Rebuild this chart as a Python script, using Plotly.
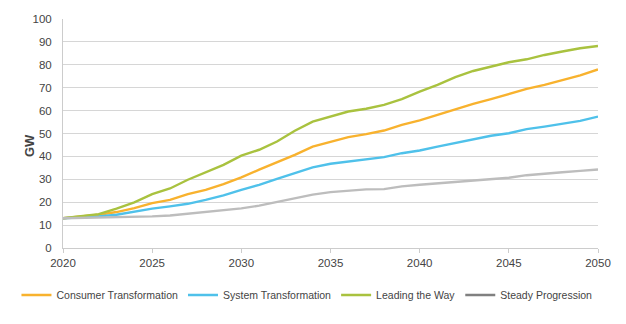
import plotly.graph_objects as go

years = list(range(2020, 2051))

consumer = [13.0, 13.6, 14.5, 15.7, 17.4, 19.6, 21.0, 23.5, 25.4, 27.9, 30.8, 34.2, 37.4, 40.7, 44.3,
            46.5, 48.4, 49.7, 51.3, 53.8, 55.7, 58.1, 60.6, 62.9, 65.0, 67.2, 69.5, 71.2, 73.4, 75.4, 78.0]
system = [13.0, 13.3, 13.8, 14.5, 16.0, 17.2, 18.2, 19.3, 21.0, 23.0, 25.4, 27.6, 30.2, 32.7, 35.2,
          36.8, 37.8, 38.5, 39.7, 41.4, 42.6, 44.3, 45.8, 47.5, 49.0, 50.1, 51.9, 53.0, 54.2, 55.5, 57.4]
leading = [13.0, 13.8, 14.8, 17.2, 19.9, 23.5, 26.0, 29.8, 33.0, 36.3, 40.3, 42.9, 46.5, 51.2, 55.2,
           57.4, 59.6, 60.8, 62.5, 65.0, 68.3, 71.2, 74.6, 77.3, 79.2, 81.1, 82.4, 84.3, 85.8, 87.2, 88.2]
steady = [13.0, 13.1, 13.3, 13.4, 13.6, 13.8, 14.2, 15.0, 15.6, 16.3, 17.3, 18.5, 20.1, 21.4, 23.3,
          24.4, 25.0, 25.6, 25.7, 26.9, 27.6, 28.2, 28.8, 29.4, 30.1, 30.7, 31.8, 32.6, 33.1, 33.7, 34.3]

names = ["Consumer Transformation", "System Transformation", "Leading the Way", "Steady Progression"]
colors = ["#F8B22E", "#4FC1EA", "#A9C23F", "#BDBDBD"]
legend_colors = ["#F8B22E", "#4FC1EA", "#A9C23F", "#808080"]
series = [consumer, system, leading, steady]

fig = go.Figure()
for name, col, lcol, vals in zip(names, colors, legend_colors, series):
    fig.add_trace(go.Scatter(x=years, y=vals, mode="lines", name=name,
                             line=dict(color=col, width=2.4), showlegend=(col == lcol),
                             legendgroup=name))
    if col != lcol:
        fig.add_trace(go.Scatter(x=[None], y=[None], mode="lines", name=name,
                                 line=dict(color=lcol, width=2.6), legendgroup=name))

fig.update_layout(
    width=626, height=324,
    margin=dict(l=63, r=28, t=19, b=76, autoexpand=False),
    paper_bgcolor="white", plot_bgcolor="white",
    font=dict(family="Liberation Sans, Arial, sans-serif", size=11.5, color="#444444"),
    showlegend=True,
    legend=dict(orientation="h", x=-0.087, xanchor="left", y=-0.205, yanchor="middle",
                font=dict(size=10.5, color="#444444"), itemwidth=30, tracegroupgap=0,
                traceorder="normal"),
    xaxis=dict(range=[2020, 2050], tickvals=[2020, 2025, 2030, 2035, 2040, 2045, 2050],
               showgrid=False, showline=True, linecolor="#CCCCCC", linewidth=1,
               ticks="outside", ticklen=4, tickcolor="#CCCCCC", zeroline=False),
    yaxis=dict(range=[0, 100], dtick=10, showgrid=True, gridcolor="#D6D6D6", gridwidth=1,
               showline=True, linecolor="#CCCCCC", linewidth=1, zeroline=False,
               ticks="", ticklabelstandoff=8),
    annotations=[dict(text="<b>GW</b>", textangle=-90, xref="paper", yref="paper",
                      x=(29 - 63) / 535, y=0.445, xanchor="center", yanchor="middle",
                      showarrow=False, font=dict(size=13, color="#444444"))],
)

fig.write_html("out.html")
